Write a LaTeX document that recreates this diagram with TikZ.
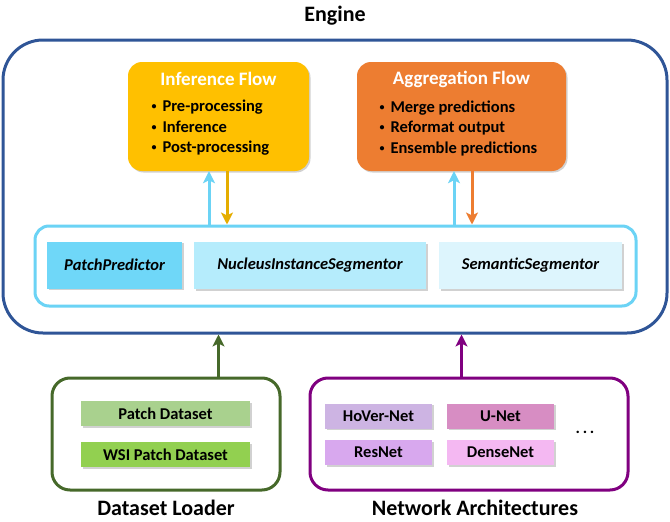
\documentclass[tikz,border=0pt]{standalone}
\usepackage{fontspec}
\setmainfont{Carlito}
\usepackage{tikz}
\usetikzlibrary{arrows.meta,calc,shadows}

\definecolor{engineblue}{HTML}{2F5597}
\definecolor{inflgold}{HTML}{FFC000}
\definecolor{aggrorange}{HTML}{ED7D31}
\definecolor{toolcyan}{HTML}{6BD3F5}
\definecolor{ppfill}{HTML}{6FD7F8}
\definecolor{nisfill}{HTML}{B5ECFC}
\definecolor{ssfill}{HTML}{DDF5FD}
\definecolor{loadgreen}{HTML}{46692A}
\definecolor{pdfill}{HTML}{A9D18E}
\definecolor{wsifill}{HTML}{92D050}
\definecolor{netpurple}{HTML}{800080}
\definecolor{hoverfill}{HTML}{CDB4E3}
\definecolor{unetfill}{HTML}{D78DC3}
\definecolor{resnetfill}{HTML}{D8A8EE}
\definecolor{densefill}{HTML}{F4B8F2}

\newcommand{\flowitem}{\raisebox{2pt}{\fontsize{10}{10}\selectfont\textbullet}\hspace{6pt}}

\tikzset{
  bigtxt/.style={font=\fontsize{22}{26}\selectfont\bfseries},
  boxtxt/.style={font=\fontsize{16.5}{20.5}\selectfont\bfseries},
  softshadow/.style={drop shadow={shadow xshift=1.5pt,shadow yshift=-1.5pt,opacity=0.18,fill=black}},
  flowbox/.style={rounded corners=14pt, minimum height=109pt, softshadow},
  frame/.style={line width=3pt, fill=white},
  toolbox/.style={boxtxt, font=\fontsize{16.5}{20.5}\selectfont\bfseries\itshape, minimum height=47pt, softshadow},
  itembox/.style={boxtxt, minimum height=25pt, softshadow},
  flowarrow/.style={line width=3pt, -{Stealth[length=12pt,width=12pt,inset=3pt]}}
}

\begin{document}
\begin{tikzpicture}[x=1pt,y=-1pt]
    \useasboundingbox (0,0) rectangle (670,522);

    % Engine frame
    \node[bigtxt] (enginetitle) at (335,16) {Engine};
    \node[frame, draw=engineblue, rounded corners=40pt, minimum width=664pt, minimum height=293pt] (engine) at (335,186.5) {};

    % Inference flow (gold)
    \node[flowbox, fill=inflgold, minimum width=181pt] (infl) at (218.5,116.5) {};
    \node[bigtxt, font=\fontsize{19}{22}\selectfont\bfseries, text=white] (infltitle) at (218.5,79) {Inference Flow};
    \node[boxtxt, align=left, anchor=west] (infllist) at (148,128)
      {\flowitem Pre-processing\\\flowitem Inference\\\flowitem Post-processing};

    % Aggregation flow (orange)
    \node[flowbox, fill=aggrorange, minimum width=209pt] (aggr) at (461.5,116.5) {};
    \node[bigtxt, font=\fontsize{19}{22}\selectfont\bfseries, text=white] (aggrtitle) at (461.5,79) {Aggregation Flow};
    \node[boxtxt, align=left, anchor=west] (aggrlist) at (376,128)
      {\flowitem Merge predictions\\\flowitem Reformat output\\\flowitem Ensemble predictions};

    % Engine tools (cyan)
    \node[frame, draw=toolcyan, rounded corners=14pt, minimum width=601pt, minimum height=80pt] (tools) at (335.5,266) {};
    \node[toolbox, fill=ppfill, minimum width=135pt] (patchpred) at (114.5,265) {PatchPredictor};
    \node[toolbox, fill=nisfill, minimum width=232pt] (nucseg) at (310,265.5) {NucleusInstanceSegmentor};
    \node[toolbox, fill=ssfill, minimum width=183pt] (semseg) at (530.5,265.5) {SemanticSegmentor};

    % Arrows between tools and flows
    \coordinate (influp) at ($(infl.south)+(-9.5,0)$);
    \coordinate (infldown) at ($(infl.south)+(8.5,0)$);
    \coordinate (aggrup) at ($(aggr.south)+(-7.5,0)$);
    \coordinate (aggrdown) at ($(aggr.south)+(10.5,0)$);
    \draw[flowarrow, toolcyan] (influp |- tools.north) -- (influp);
    \draw[flowarrow, inflgold!90!black] (infldown) -- (infldown |- tools.north);
    \draw[flowarrow, toolcyan] (aggrup |- tools.north) -- (aggrup);
    \draw[flowarrow, aggrorange] (aggrdown) -- (aggrdown |- tools.north);

    % Dataset loader (green)
    \node[frame, draw=loadgreen, rounded corners=18pt, minimum width=228pt, minimum height=112pt] (loader) at (166,434) {};
    \node[itembox, fill=pdfill, minimum width=169pt] (patchds) at (165.5,413.5) {Patch Dataset};
    \node[itembox, fill=wsifill, minimum width=169pt] (wsids) at (165.5,454.5) {WSI Patch Dataset};
    \node[bigtxt, anchor=base, inner sep=0pt] (loaderlabel) at (166,515) {Dataset Loader};

    % Network architectures (purple)
    \node[frame, draw=netpurple, rounded corners=18pt, minimum width=318pt, minimum height=112pt] (nets) at (469,434) {};
    \node[itembox, fill=hoverfill, minimum width=107pt] (hovernet) at (378.5,416) {HoVer-Net};
    \node[itembox, fill=unetfill, minimum width=107pt] (unet) at (500.5,416) {U-Net};
    \node[itembox, fill=resnetfill, minimum width=107pt] (resnet) at (378.5,452.5) {ResNet};
    \node[itembox, fill=densefill, minimum width=107pt] (densenet) at (500.5,452.5) {DenseNet};
    \node[boxtxt] (moredots) at (585,432) {.\,.\,.};
    \node[bigtxt, anchor=base, inner sep=0pt] (netslabel) at (475,515) {Network Architectures};

    % Inputs into the engine
    \draw[flowarrow, loadgreen] (loader.north -| infl.south) -- (engine.south -| infl.south);
    \draw[flowarrow, netpurple] (nets.north -| aggr.south) -- (engine.south -| aggr.south);
\end{tikzpicture}
\end{document}
